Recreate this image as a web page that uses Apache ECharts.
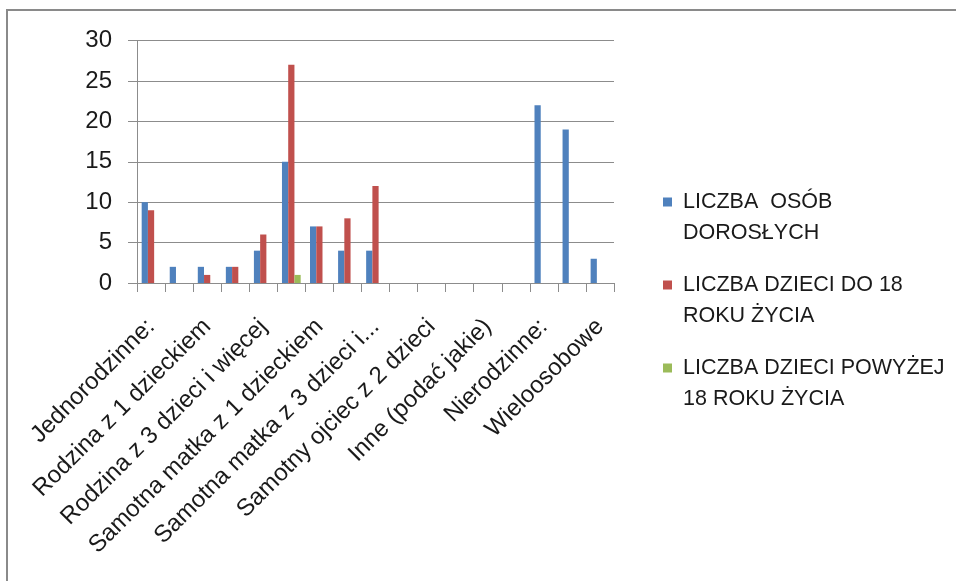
<!DOCTYPE html>
<html>
<head>
<meta charset="utf-8">
<script src="https://cdn.jsdelivr.net/npm/echarts@6/dist/echarts.min.js"></script>
<style>
html,body{margin:0;padding:0;background:#fff;}
#chart{width:956px;height:581px;}
</style>
</head>
<body>
<div id="chart"></div>
<script>
var categories = [
  'Jednorodzinne:',
  'Rodzina bez dzieci',
  'Rodzina z 1 dzieckiem',
  'Rodzina z 2 dzieci',
  'Rodzina z 3 dzieci i więcej',
  'Samotni rodzice:',
  'Samotna matka z 1 dzieckiem',
  'Samotna matka z 2 dzieci',
  'Samotna matka z 3 dzieci i więcej',
  'Samotny ojciec z 1 dzieckiem',
  'Samotny ojciec z 2 dzieci',
  'Samotny ojciec z 3 dzieci i więcej',
  'Inne (podać jakie)',
  'Wielopokoleniowe',
  'Nierodzinne:',
  'Jednoosobowe',
  'Wieloosobowe'
];
var seriesNames = [
  'LICZBA  OSÓB DOROSŁYCH',
  'LICZBA DZIECI DO 18 ROKU ŻYCIA',
  'LICZBA DZIECI POWYŻEJ 18 ROKU ŻYCIA'
];
var legendLines = [
  'LICZBA  OSÓB\nDOROSŁYCH',
  'LICZBA DZIECI DO 18\nROKU ŻYCIA',
  'LICZBA DZIECI POWYŻEJ\n18 ROKU ŻYCIA'
];
var adults   = [10, 2, 2, 2, 4, 15, 7, 4, 4, 0, 0, 0, 0, 0, 22, 19, 3];
var kidsTo18 = [9, 0, 1, 2, 6, 27, 7, 8, 12, 0, 0, 0, 0, 0, 0, 0, 0];
var kidsOver = [0, 0, 0, 0, 0, 1, 0, 0, 0, 0, 0, 0, 0, 0, 0, 0, 0];
var yTicks = { min: 0, max: 30, interval: 5 };
var colors = ['#4F81BD', '#C0504D', '#9BBB59'];

var FONT = 'Liberation Sans';
var LH = 31;
var legendCenters = [202, 285, 368];

var chart = echarts.init(document.getElementById('chart'));
var legends = seriesNames.map(function (n, i) {
  return {
    data: [n],
    left: 663,
    top: legendCenters[i] - 1.5 * LH,
    padding: 0,
    orient: 'vertical',
    icon: 'rect',
    itemWidth: 9,
    itemHeight: 9,
    selectedMode: false,
    formatter: function () { return ' \n' + legendLines[i]; },
    textStyle: {
      fontFamily: FONT, fontSize: 21.5, color: '#1a1a1a',
      lineHeight: LH, padding: [0, 0, 0, 6]
    }
  };
});

chart.setOption({
  animation: false,
  backgroundColor: '#fff',
  color: colors,
  graphic: [{
    type: 'rect',
    shape: { x: 7, y: 10, width: 2000, height: 2000 },
    style: { fill: 'none', stroke: '#8a8a8a', lineWidth: 2 },
    silent: true
  }],
  legend: legends,
  grid: { left: 137, top: 40.5, width: 477, height: 242.5 },
  xAxis: {
    type: 'category',
    data: categories,
    axisLine: { lineStyle: { color: '#8c8c8c', width: 1 } },
    axisTick: { show: true, interval: 0, length: 9, lineStyle: { color: '#8c8c8c' } },
    axisLabel: {
      interval: 1,
      rotate: 45,
      margin: 40,
      fontFamily: FONT,
      fontSize: 24,
      color: '#1a1a1a',
      formatter: function (v) { return v.length > 30 ? v.slice(0, 26) + '...' : v; }
    }
  },
  yAxis: {
    type: 'value',
    min: yTicks.min, max: yTicks.max, interval: yTicks.interval,
    axisLine: { show: true, lineStyle: { color: '#8c8c8c', width: 1 } },
    axisTick: { show: true, length: 9, lineStyle: { color: '#8c8c8c' } },
    splitLine: { show: true, lineStyle: { color: '#8c8c8c', width: 1 } },
    axisLabel: { margin: 25, fontFamily: FONT, fontSize: 24, color: '#1a1a1a' }
  },
  series: [
    { name: seriesNames[0], type: 'bar', data: adults, barGap: '0%', barCategoryGap: '33.3%' },
    { name: seriesNames[1], type: 'bar', data: kidsTo18, barGap: '0%', barCategoryGap: '33.3%' },
    { name: seriesNames[2], type: 'bar', data: kidsOver, barGap: '0%', barCategoryGap: '33.3%' }
  ]
});
</script>
</body>
</html>
